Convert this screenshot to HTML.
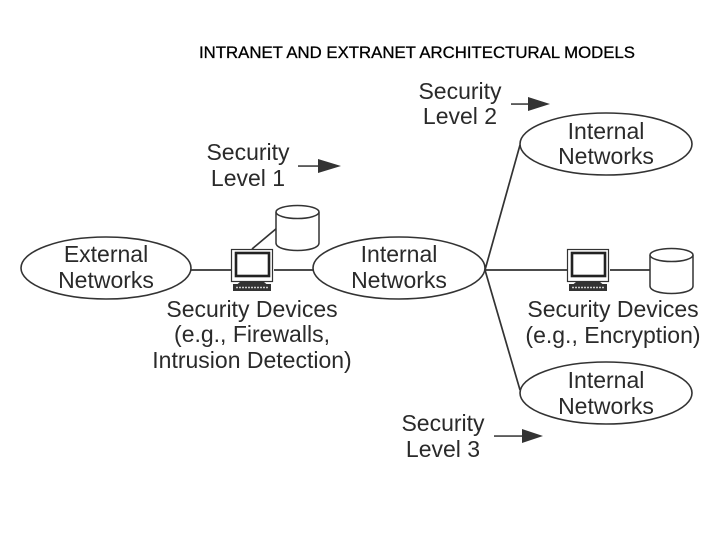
<!DOCTYPE html>
<html><head><meta charset="utf-8"><style>
html,body{margin:0;padding:0;background:#fff}
svg{display:block}
.t{font-family:"Liberation Sans",sans-serif;font-size:23px;fill:#2a2a2a;text-anchor:middle}
.l{stroke:#333;stroke-width:1.7;fill:none}
.e{stroke:#333;stroke-width:1.6;fill:#fff}
</style></head><body>
<svg width="720" height="540" viewBox="0 0 720 540" xmlns="http://www.w3.org/2000/svg">
<defs>
<g id="pc">
<rect x="0.5" y="0.5" width="41" height="32" fill="#fff" stroke="#333" stroke-width="1.2"/>
<rect x="5" y="4" width="33" height="23" fill="#fff" stroke="#222" stroke-width="2.6"/>
<path d="M9 33h24l3 2.5H6z" fill="#333"/>
<rect x="2" y="33" width="38" height="9" fill="#333" opacity="0"/>
<rect x="2" y="35" width="38" height="7" fill="#333"/>
<path d="M5 38.5h32" stroke="#ccc" stroke-width="1.5" stroke-dasharray="2 1"/>
</g>
<g id="cyl">
<path d="M0 7V38C0 48 43 48 43 38V7" fill="#fff" stroke="#333" stroke-width="1.5"/>
<ellipse cx="21.5" cy="7" rx="21.5" ry="6.5" fill="#fff" stroke="#333" stroke-width="1.5"/>
</g>
</defs>
<text x="417" y="58" font-family="Liberation Sans,sans-serif" font-size="16.5" fill="#000" stroke="#000" stroke-width="0.3" text-anchor="middle" textLength="436" lengthAdjust="spacingAndGlyphs">INTRANET AND EXTRANET ARCHITECTURAL MODELS</text>

<path class="l" d="M190 270H232M274 270H314"/>
<path class="l" d="M485 270L520 145M485 270H568M610 270H650M485 270L520 390"/>
<path class="l" d="M252 249L277 228"/>

<ellipse class="e" cx="106" cy="268" rx="85" ry="31"/>
<ellipse class="e" cx="399" cy="268" rx="86" ry="31"/>
<ellipse class="e" cx="606" cy="144" rx="86" ry="31"/>
<ellipse class="e" cx="606" cy="393" rx="86" ry="31"/>

<use href="#pc" x="231" y="249"/>
<use href="#pc" x="567" y="249"/>
<use href="#cyl" x="276" y="205"/>
<use href="#cyl" x="650" y="248"/>

<g>
<text class="t" x="106" y="262">External</text>
<text class="t" x="106" y="288">Networks</text>
<text class="t" x="399" y="262">Internal</text>
<text class="t" x="399" y="288">Networks</text>
<text class="t" x="606" y="139">Internal</text>
<text class="t" x="606" y="164">Networks</text>
<text class="t" x="606" y="388">Internal</text>
<text class="t" x="606" y="414">Networks</text>
<text class="t" x="460" y="99">Security</text>
<text class="t" x="460" y="124">Level 2</text>
<text class="t" x="248" y="160">Security</text>
<text class="t" x="248" y="186">Level 1</text>
<text class="t" x="443" y="431">Security</text>
<text class="t" x="443" y="457">Level 3</text>
<text class="t" x="252" y="317">Security Devices</text>
<text class="t" x="252" y="342">(e.g., Firewalls,</text>
<text class="t" x="252" y="368">Intrusion Detection)</text>
<text class="t" x="613" y="317">Security Devices</text>
<text class="t" x="613" y="343">(e.g., Encryption)</text>
</g>

<g fill="#333" stroke="none">
<rect x="511" y="103.3" width="20" height="1.5"/><path d="M528 97L550 104L528 111Z"/>
<rect x="298" y="165.3" width="22" height="1.5"/><path d="M318 159L341 166L318 173Z"/>
<rect x="494" y="435.3" width="30" height="1.5"/><path d="M522 429L543 436L522 443Z"/>
</g>
</svg>
</body></html>
